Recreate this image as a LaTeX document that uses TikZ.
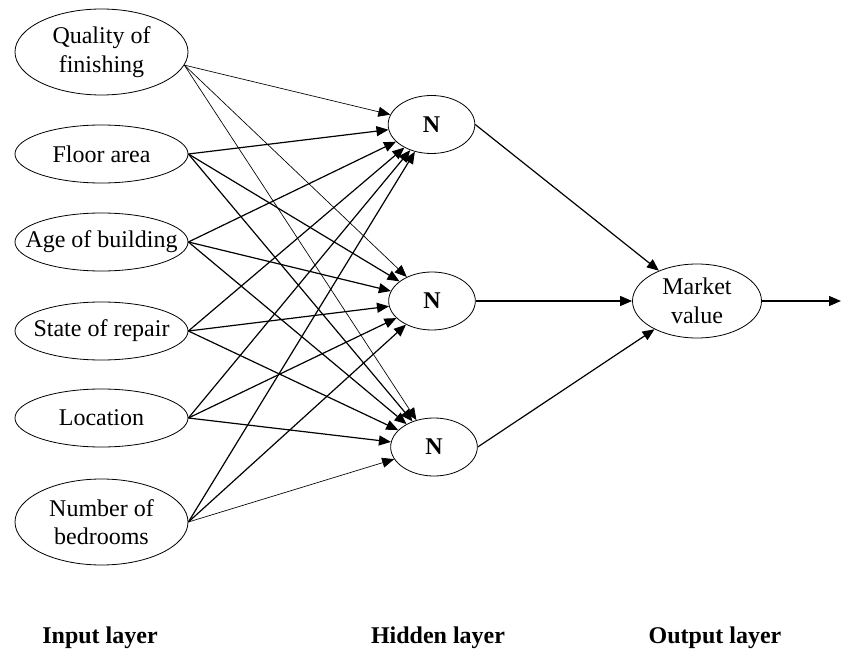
\documentclass[tikz,border=0pt]{standalone}
\usepackage{fontspec}
\setmainfont{Liberation Serif}
\usetikzlibrary{arrows.meta,shapes.geometric}

\begin{document}
\begin{tikzpicture}[x=0.75pt,y=-0.75pt,
  every node/.style={font=\fontsize{18}{21.5}\selectfont},
  unit/.style={draw,ellipse,line width=0.6pt,inner sep=0pt,align=center},
  inbox/.style={unit,inner xsep=-12pt,minimum width=129.75pt,minimum height=43.5pt},
  inboxtall/.style={inbox,minimum height=64.5pt},
  hidbox/.style={unit,minimum width=65pt,minimum height=43.5pt,font=\fontsize{18}{21.5}\selectfont\bfseries},
  outbox/.style={unit,minimum width=96.75pt,minimum height=55.5pt},
  layerlabel/.style={anchor=base,font=\fontsize{18}{21.5}\selectfont\bfseries},
  link/.style={-{Triangle[length=9pt,width=7.5pt]},line width=0.9pt},
  thinlink/.style={-{Triangle[length=9pt,width=7.5pt]},line width=0.5pt}]

\useasboundingbox (0,0) rectangle (842,652);

% input layer
\node[inboxtall] (q) at (101.5,52)  {Quality of\\finishing};
\node[inbox]     (f) at (101.5,154) {Floor area};
\node[inbox]     (a) at (101.5,242) {Age of building};
\node[inbox]     (s) at (101.5,331) {State of repair};
\node[inbox]     (l) at (101.5,418) {Location};
\node[inboxtall] (b) at (101.5,522) {Number of\\bedrooms};

% hidden layer
\node[hidbox] (h1) at (431.5,124.5) {N};
\node[hidbox] (h2) at (432,301)     {N};
\node[hidbox] (h3) at (434,447)     {N};

% output layer
\node[outbox] (mv) at (697,301) {Market\\value};
\coordinate (out) at (841,301);

% input -> hidden connections
\foreach \h in {h1,h2,h3}{
  \draw[thinlink] (q.-9) -- (\h);
}
\foreach \i in {f,a,s,l}{
  \foreach \h in {h1,h2,h3}{
    \draw[link] (\i.east) -- (\h);
  }
}
\draw[link] (b.east) -- (h1);
\draw[link] (b.east) -- (h2);
\draw[thinlink] (b.east) -- (h3);

% hidden -> output
\draw[link] (h1.east) -- (mv);
\draw[link] (h2.east) -- (mv);
\draw[link] (h3.east) -- (mv);
\draw[link] (mv.east) -- (out);

% layer captions
\node[layerlabel] (li) at (100,643) {Input layer};
\node[layerlabel] (lh) at (438,643) {Hidden layer};
\node[layerlabel] (lo) at (715,643) {Output layer};
\end{tikzpicture}
\end{document}
